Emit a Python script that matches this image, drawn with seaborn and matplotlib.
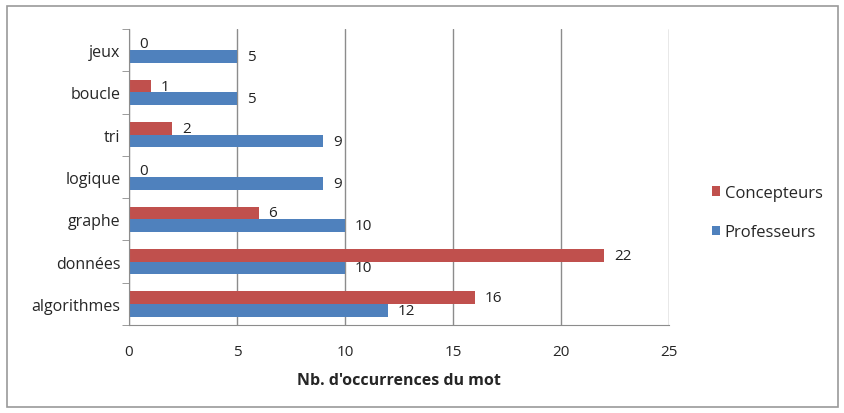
import numpy as np
import pandas as pd
import matplotlib.pyplot as plt
import seaborn as sns
from matplotlib.patches import Rectangle

# Word counts (top to bottom)
mots = ["jeux", "boucle", "tri", "logique", "graphe", "données", "algorithmes"]
concepteurs = [0, 1, 2, 0, 6, 22, 16]
professeurs = [5, 5, 9, 9, 10, 10, 12]
series = ["Concepteurs", "Professeurs"]

df = pd.DataFrame({
    "mot": mots * 2,
    "n": concepteurs + professeurs,
    "serie": [series[0]] * len(mots) + [series[1]] * len(mots),
})

sns.set_style("white")
plt.rcParams['font.family'] = ['Open Sans', 'DejaVu Sans']

fig = plt.figure(figsize=(8.45, 4.14), dpi=100)
ax = fig.add_axes([0.1527, 0.2126, 0.639, 0.7149])

palette = {"Concepteurs": "#C0504D", "Professeurs": "#4F81BD"}
sns.barplot(data=df, x="n", y="mot", hue="serie", hue_order=series, order=mots,
            palette=palette, orient="h", width=0.6, saturation=1, linewidth=0,
            ax=ax, legend=True)

for c in ax.containers:
    ax.bar_label(c, padding=7, fontsize=11, color="#222222")

ax.set_xlim(0, 25)
ax.set_ylim(6.5, -0.5)
ax.set_xticks(range(0, 26, 5))
ax.xaxis.grid(True, color="#8c8c8c", lw=1)
ax.set_axisbelow(True)
ax.set_ylabel("")
ax.set_xlabel("Nb. d'occurrences du mot", fontsize=11.5, fontweight="bold", labelpad=9)
ax.tick_params(axis="x", labelsize=11, length=4, color="#8c8c8c", pad=10)
ax.tick_params(axis="y", labelsize=11.5, length=0, pad=6)
ax.set_yticks(np.arange(-0.5, 7, 1), minor=True)
ax.tick_params(axis="y", which="minor", length=5, color="#8c8c8c", left=True)
for s in ["top", "right"]:
    ax.spines[s].set_visible(False)
for s in ["left", "bottom"]:
    ax.spines[s].set_color("#8c8c8c")

handles, labels = ax.get_legend_handles_labels()
ax.get_legend().remove()
fig.legend(handles, labels, loc="center left", bbox_to_anchor=(0.825, 0.484),
           frameon=False, fontsize=12, handlelength=0.5, handleheight=0.5,
           handletextpad=0.25, labelspacing=1.4)

fig.patches.append(Rectangle((0.008, 0.015), 0.984, 0.968, transform=fig.transFigure,
                             fill=False, edgecolor="#9a9a9a", lw=1.2))

fig.savefig("out.png", dpi=100)
